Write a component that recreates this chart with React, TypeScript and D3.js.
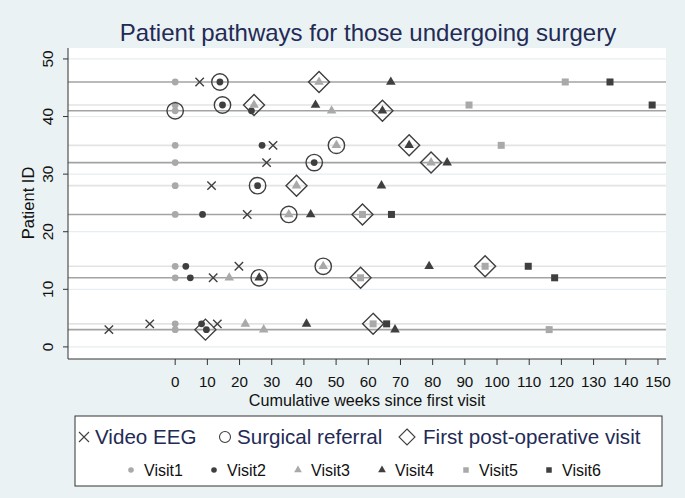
import React from 'react';
import * as d3 from 'd3';

const W = 685;
const H = 498;

// patient rows drawn as horizontal pathway lines
const darkLinePatients = [3, 12, 23, 32, 41, 46];
const lightLinePatients = [4, 14, 28, 35, 42];

// [patient id, cumulative weeks]
const visit1 = [[46, 0], [42, 0], [41, 0], [35, 0], [32, 0], [28, 0], [23, 0], [14, 0], [12, 0], [4, 0], [3, 0]];
const visit2 = [[46, 13.9], [42, 14.7], [41, 23.7], [35, 27], [32, 43.2], [28, 25.6], [23, 8.5], [14, 3.3], [12, 4.7], [4, 8.2], [3, 9.7]];
const visit3 = [[46, 44.7], [42, 24.5], [41, 48.6], [35, 50.1], [32, 79.5], [28, 37.7], [23, 35.3], [14, 46], [12, 16.8], [4, 21.8], [3, 27.5]];
const visit4 = [[46, 67], [42, 43.6], [41, 64.4], [35, 72.7], [32, 84.5], [28, 64.1], [23, 42.1], [14, 78.9], [12, 26.1], [4, 40.8], [3, 68.3]];
const visit5 = [[46, 121.2], [42, 91.3], [35, 101.3], [23, 58.2], [14, 96.3], [12, 57.6], [4, 61.5], [3, 116.2]];
const visit6 = [[46, 135.1], [42, 148.2], [23, 67.2], [14, 109.7], [12, 117.9], [4, 65.7]];

const videoEEG = [[46, 7.6], [35, 30.4], [32, 28.4], [28, 11.3], [23, 22.4], [14, 19.8], [12, 11.8], [4, -7.9], [4, 13.1], [3, -20.6]];
const surgicalReferral = [[46, 13.9], [42, 14.7], [41, 0], [35, 50.1], [32, 43.2], [28, 25.6], [23, 35.3], [14, 46], [12, 26.1]];
const firstPostOp = [[46, 44.7], [42, 24.5], [41, 64.4], [35, 72.7], [32, 79.5], [28, 37.7], [23, 58.2], [14, 96.3], [12, 57.6], [4, 61.5], [3, 9.4]];

const xTicks = d3.range(0, 151, 10);
const yTicks = [0, 10, 20, 30, 40, 50];

const LIGHT = '#a9a9a9';
const DARK = '#3f3f3f';
const NAVY = '#232a55';
const FONT = 'Liberation Sans, Arial, Helvetica, sans-serif';

const plot = { left: 68, right: 666, top: 48, bottom: 359 };

const x = d3.scaleLinear().domain([-33.3, 152.5]).range([plot.left, plot.right]);
const y = d3.scaleLinear().domain([-2.1, 51.9]).range([plot.bottom, plot.top]);

const tri = d3.symbol().type(d3.symbolTriangle);

const Dot = ({ cx, cy, fill, r = 3.4 }) => <circle cx={cx} cy={cy} r={r} fill={fill} />;
const Tri = ({ cx, cy, fill, size = 40 }) => (
  <path d={tri.size(size)()} transform={`translate(${cx},${cy})`} fill={fill} />
);
const Sq = ({ cx, cy, fill, s = 7 }) => <rect x={cx - s / 2} y={cy - s / 2} width={s} height={s} fill={fill} />;
const Cross = ({ cx, cy, h = 4.2, sw = 1.4 }) => (
  <path d={`M${cx - h},${cy - h}L${cx + h},${cy + h}M${cx - h},${cy + h}L${cx + h},${cy - h}`} stroke={DARK} strokeWidth={sw} />
);
const Ring = ({ cx, cy, r = 8.2, sw = 1.4 }) => (
  <circle cx={cx} cy={cy} r={r} fill="none" stroke={DARK} strokeWidth={sw} />
);
const Diamond = ({ cx, cy, h = 10.5, sw = 1.4 }) => (
  <path d={`M${cx},${cy - h}L${cx + h},${cy}L${cx},${cy + h}L${cx - h},${cy}Z`} fill="none" stroke={DARK} strokeWidth={sw} />
);

export default function App() {
  const legendRow2 = [
    { label: 'Visit1', mx: 131, tx: 144, kind: 'dot', fill: LIGHT },
    { label: 'Visit2', mx: 214, tx: 227, kind: 'dot', fill: DARK },
    { label: 'Visit3', mx: 298, tx: 311, kind: 'tri', fill: LIGHT },
    { label: 'Visit4', mx: 382, tx: 395, kind: 'tri', fill: DARK },
    { label: 'Visit5', mx: 466, tx: 479, kind: 'sq', fill: LIGHT },
    { label: 'Visit6', mx: 549, tx: 562, kind: 'sq', fill: DARK },
  ];

  return (
    <svg width={W} height={H} style={{ position: 'absolute', left: 0, top: 0, display: 'block' }} fontFamily={FONT}>
      <rect width={W} height={H} fill="#eaf2f3" />
      <rect x={plot.left} y={plot.top} width={plot.right - plot.left} height={plot.bottom - plot.top} fill="#fff" />

      {/* grid */}
      {yTicks.map((t) => (
        <line key={'g' + t} x1={plot.left} x2={plot.right} y1={y(t)} y2={y(t)} stroke="#e6eef1" strokeWidth={1.2} />
      ))}

      {/* patient lines */}
      {lightLinePatients.map((p) => (
        <line key={'l' + p} x1={plot.left} x2={plot.right} y1={y(p)} y2={y(p)} stroke="#e3e3e3" strokeWidth={1.6} />
      ))}
      {darkLinePatients.map((p) => (
        <line key={'d' + p} x1={plot.left} x2={plot.right} y1={y(p)} y2={y(p)} stroke="#a3a3a3" strokeWidth={1.6} />
      ))}

      {/* visits */}
      {visit1.map(([p, w], i) => <Dot key={'v1' + i} cx={x(w)} cy={y(p)} fill={LIGHT} />)}
      {visit2.map(([p, w], i) => <Dot key={'v2' + i} cx={x(w)} cy={y(p)} fill={DARK} />)}
      {visit3.map(([p, w], i) => <Tri key={'v3' + i} cx={x(w)} cy={y(p)} fill={LIGHT} />)}
      {visit4.map(([p, w], i) => <Tri key={'v4' + i} cx={x(w)} cy={y(p)} fill={DARK} />)}
      {visit5.map(([p, w], i) => <Sq key={'v5' + i} cx={x(w)} cy={y(p)} fill={LIGHT} />)}
      {visit6.map(([p, w], i) => <Sq key={'v6' + i} cx={x(w)} cy={y(p)} fill={DARK} />)}

      {/* events */}
      {videoEEG.map(([p, w], i) => <Cross key={'x' + i} cx={x(w)} cy={y(p)} />)}
      {surgicalReferral.map(([p, w], i) => <Ring key={'r' + i} cx={x(w)} cy={y(p)} />)}
      {firstPostOp.map(([p, w], i) => <Diamond key={'f' + i} cx={x(w)} cy={y(p)} />)}

      {/* axes */}
      <line x1={plot.left} x2={plot.left} y1={plot.top} y2={plot.bottom} stroke="#333" strokeWidth={1} />
      <line x1={plot.left} x2={plot.right} y1={plot.bottom} y2={plot.bottom} stroke="#333" strokeWidth={1} />
      {yTicks.map((t) => (
        <g key={'yt' + t}>
          <line x1={plot.left - 5} x2={plot.left} y1={y(t)} y2={y(t)} stroke="#333" />
          <text transform={`translate(${53},${y(t)}) rotate(-90)`} textAnchor="middle" fontSize={15.5} fill="#111">
            {t}
          </text>
        </g>
      ))}
      {xTicks.map((t) => (
        <g key={'xt' + t}>
          <line x1={x(t)} x2={x(t)} y1={plot.bottom} y2={plot.bottom + 6} stroke="#333" />
          <text x={x(t)} y={386.5} textAnchor="middle" fontSize={15.2} fill="#111">
            {t}
          </text>
        </g>
      ))}
      <text x={(plot.left + plot.right) / 2} y={405.5} textAnchor="middle" fontSize={16.2} fill="#111">
        Cumulative weeks since first visit
      </text>
      <text transform={`translate(${34},${y(25)}) rotate(-90)`} textAnchor="middle" fontSize={16.5} fill="#111">
        Patient ID
      </text>

      {/* title */}
      <text x={368} y={41} textAnchor="middle" fontSize={24} fill={NAVY}>
        Patient pathways for those undergoing surgery
      </text>

      {/* legend */}
      <rect x={75} y={416} width={587} height={70} fill="#fff" stroke="#333" strokeWidth={1} />
      <Cross cx={84} cy={437} h={5} sw={1.1} />
      <text x={95} y={444} fontSize={20.6} fill={NAVY}>Video EEG</text>
      <Ring cx={225} cy={437} r={5.5} sw={1.1} />
      <text x={237} y={444} fontSize={20.6} fill={NAVY}>Surgical referral</text>
      <Diamond cx={407} cy={437} h={8} sw={1.1} />
      <text x={423} y={444} fontSize={20.6} fill={NAVY}>First post-operative visit</text>
      {legendRow2.map((d) => (
        <g key={d.label}>
          {d.kind === 'dot' && <Dot cx={d.mx} cy={470} r={2.8} fill={d.fill} />}
          {d.kind === 'tri' && <Tri cx={d.mx} cy={470} size={26} fill={d.fill} />}
          {d.kind === 'sq' && <Sq cx={d.mx} cy={470} s={5.5} fill={d.fill} />}
          <text x={d.tx} y={475.5} fontSize={16} fill="#111">{d.label}</text>
        </g>
      ))}
    </svg>
  );
}
